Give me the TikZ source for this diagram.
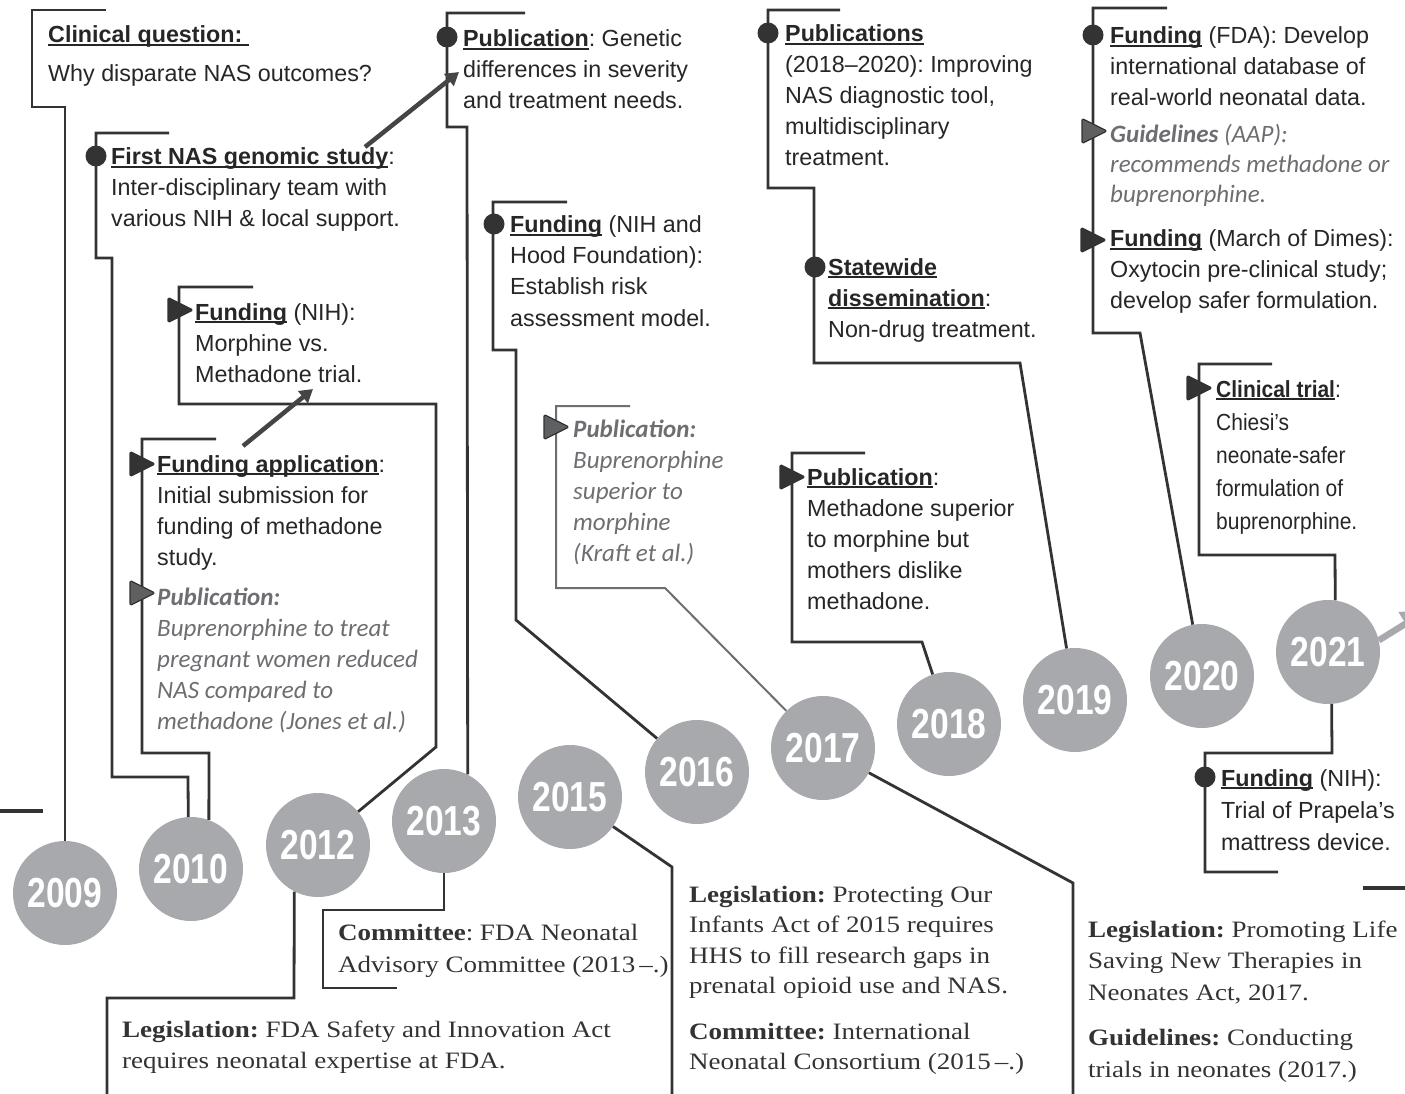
\documentclass[tikz,border=0pt]{standalone}
\usepackage{fontspec}
\setmainfont{Liberation Sans}
\newfontfamily\serifx{Liberation Serif}[FakeStretch=1.15]
\newfontfamily\calx{Carlito}
\newfontfamily\yearx{Liberation Sans}[FakeStretch=0.8]
\newfontfamily\narrowx{Liberation Sans}[FakeStretch=0.9]
\usetikzlibrary{arrows.meta}
\frenchspacing
\definecolor{ink}{HTML}{262626}
\definecolor{linec}{HTML}{333333}
\definecolor{greyt}{HTML}{6D6E71}
\definecolor{circ}{HTML}{A7A9AC}
\definecolor{trigrey}{HTML}{5F6062}
\definecolor{arrc}{HTML}{454545}
\newcommand\ulx[1]{\leavevmode\setbox0\hbox{#1}\rlap{\rule[-2.8pt]{\wd0}{1.4pt}}\box0\relax}
\newcommand\blk[1]{\parbox[t]{640pt}{\raggedright\frenchspacing\leavevmode #1}}
\newcommand\dotmk[2]{\fill[linec] (#1,#2) circle[radius=10.5pt];}
\newcommand\trimk[3]{\filldraw[fill=#3, draw=linec, line width=1.2pt, line join=round, rounded corners=1.5pt] (#1-12,#2-12.5) -- (#1+13,#2) -- (#1-12,#2+12.5) -- cycle;}
\tikzset{
  ln/.style={draw=linec, line width=2.8pt},
  lngrey/.style={draw=greyt, line width=2pt},
  yr/.style={circle, fill=circ, minimum size=104pt, inner sep=0pt, text=white, font=\yearx\bfseries\fontsize{42}{42}\selectfont},
  st/.style={anchor=base west, inner sep=0pt, text=ink, font=\fontsize{23.3}{31}\selectfont},
  stn/.style={anchor=base west, inner sep=0pt, text=ink, font=\narrowx\fontsize{23.3}{33}\selectfont},
  itx/.style={anchor=base west, inner sep=0pt, text=greyt, font=\calx\itshape\fontsize{25}{31}\selectfont},
  sr/.style={anchor=base west, inner sep=0pt, text=linec, font=\serifx\fontsize{23.5}{31}\selectfont},
  arr/.style={draw=arrc, line width=4.5pt, -{Triangle[length=13pt,width=15pt]}},
}
\begin{document}
\begin{tikzpicture}[x=1pt,y=-1pt]
\useasboundingbox (0,0) rectangle (1405,1094);
\clip (0,0) rectangle (1405,1094);

% year circles
\node[yr] (y2009) at (65,893) {2009};
\node[yr] (y2010) at (191,869) {2010};
\node[yr] (y2012) at (318,845) {2012};
\node[yr] (y2013) at (444,821) {2013};
\node[yr] (y2015) at (570,797) {2015};
\node[yr] (y2016) at (697,772) {2016};
\node[yr] (y2017) at (823,748) {2017};
\node[yr] (y2018) at (949,724) {2018};
\node[yr] (y2019) at (1075,700) {2019};
\node[yr] (y2020) at (1202,676) {2020};
\node[yr] (y2021) at (1328,652) {2021};

% axis stubs
\coordinate (axl1) at (0,811); \coordinate (axl2) at (43,811);
\coordinate (axr1) at (1363,888); \coordinate (axr2) at (1405,888);
\draw[draw=linec, line width=4pt] (axl1) -- (axl2);
\draw[draw=linec, line width=4pt] (axr1) -- (axr2);

% brackets / connectors
\draw[ln] (106,10) -- (32,10) -- (32,107) -- (65,107) -- (y2009.north);
\draw[ln] (169,133) -- (96,133) -- (96,258) -- (112,258) -- (112,777) -- (188,777) -- (y2010.93);
\draw[ln] (253,287) -- (179,287) -- (179,404) -- (436,404) -- (436,747) -- (y2012);
\draw[ln] (216,439) -- (142,439) -- (142,753) -- (209,753) -- (y2010.70);
\draw[ln] (525,13) -- (447,13) -- (447,127) -- (467,127) -- (y2013.63);
\draw[ln] (567,202) -- (493,202) -- (493,350) -- (516,350) -- (516,620) -- (y2016);
\draw[lngrey] (630,406) -- (556,406) -- (556,588) -- (665,588) -- (y2017);
\draw[ln] (840,10) -- (768,10) -- (768,188) -- (814,188) -- (814,363) -- (1020,363) -- (y2019);
\draw[ln] (865,453) -- (792,453) -- (792,642) -- (922,642) -- (y2018);
\draw[ln] (1167,8) -- (1093,8) -- (1093,333) -- (1140,333) -- (y2020);
\draw[ln] (1272,364) -- (1199,364) -- (1199,555) -- (1335,555) -- (y2021.82);
\draw[ln] (y2021.-86) -- (1332,753) -- (1205,753) -- (1205,872) -- (1278,872);
\draw[ln] (y2013.south) -- (444,910) -- (323,910) -- (323,988) -- (397,988);
\draw[ln] (y2012.-117) -- (294,998) -- (107,998) -- (107,1094);
\draw[ln] (y2015) -- (672,867) -- (672,1094);
\draw[ln] (y2017) -- (1073,883) -- (1073,1094);

% arrows
\coordinate (a1s) at (365,147); \coordinate (a1e) at (459,72);
\coordinate (a2s) at (243,446); \coordinate (a2e) at (313,389);
\coordinate (a3e) at (1426,611);
\draw[arr] (a1s) -- (a1e);
\draw[arr] (a2s) -- (a2e);
\draw[draw=circ, line width=6.5pt, -{Triangle[length=24pt,width=26pt]}] (y2021.13) -- (a3e);

% markers
\dotmk{96}{156}
\trimk{180}{310}{linec}
\trimk{142}{464}{linec}
\trimk{142}{593}{trigrey}
\dotmk{447}{37}
\dotmk{494}{224}
\trimk{556}{427}{trigrey}
\dotmk{768}{33}
\dotmk{815}{267}
\trimk{792}{477}{linec}
\dotmk{1093}{35}
\trimk{1094}{131}{trigrey}
\trimk{1093}{240}{linec}
\trimk{1199}{388}{linec}
\dotmk{1205}{777}

% sans text blocks
\node[st] (cq) at (48,43) {\blk{\ulx{\bfseries Clinical question:~}\\[8pt]Why disparate NAS outcomes?}};
\node[st] (nas) at (111,165) {\blk{\ulx{\bfseries First NAS genomic study}:\\Inter-disciplinary team with\\various NIH \& local support.}};
\node[st] (fnih) at (195,320) {\blk{\ulx{\bfseries Funding} (NIH):\\Morphine vs.\\Methadone trial.}};
\node[st] (fapp) at (157,472) {\blk{\ulx{\bfseries Funding application}:\\Initial submission for\\funding of methadone\\study.}};
\node[itx] (jones) at (157,605) {\blk{{\bfseries Publication:}\\Buprenorphine to treat\\pregnant women reduced\\NAS compared to\\methadone (Jones et al.)}};
\node[st] (pubgen) at (463,47) {\blk{\ulx{\bfseries Publication}: Genetic\\differences in severity\\and treatment needs.}};
\node[st] (hood) at (510,233) {\blk{\ulx{\bfseries Funding} (NIH and\\Hood Foundation):\\Establish risk\\assessment model.}};
\node[itx] (kraft) at (573,437) {\blk{{\bfseries Publication:}\\Buprenorphine\\superior to\\morphine\\(Kraft et al.)}};
\node[st] (pubs) at (785,42) {\blk{\ulx{\bfseries Publications}\\(2018–2020): Improving\\NAS diagnostic tool,\\multidisciplinary\\treatment.}};
\node[st] (state) at (828,275) {\blk{\ulx{\bfseries Statewide}\\\ulx{\bfseries dissemination}:\\Non-drug treatment.}};
\node[st] (meth) at (807,485) {\blk{\ulx{\bfseries Publication}:\\Methadone superior\\to morphine but\\mothers dislike\\methadone.}};
\node[st] (fda) at (1110,44) {\blk{\ulx{\bfseries Funding} (FDA): Develop\\international database of\\real-world neonatal data.}};
\node[itx, font=\calx\itshape\fontsize{25}{30}\selectfont] (aap) at (1110,143) {\blk{{\bfseries Guidelines} (AAP):\\recommends methadone or\\buprenorphine.}};
\node[st] (mod) at (1110,247) {\blk{\ulx{\bfseries Funding} (March of Dimes):\\Oxytocin pre-clinical study;\\develop safer formulation.}};
\node[stn] (ctrial) at (1216,397) {\blk{\ulx{\bfseries Clinical trial}:\\Chiesi’s\\neonate-safer\\formulation of\\buprenorphine.}};
\node[st, font=\fontsize{23.3}{32}\selectfont] (fnih2) at (1221,786) {\blk{\ulx{\bfseries Funding} (NIH):\\Trial of Prapela’s\\mattress device.}};

% serif text blocks
\node[sr, font=\serifx\fontsize{23.5}{32}\selectfont] (comm13) at (338,940) {\blk{{\bfseries Committee}: FDA Neonatal\\Advisory Committee (2013\,–.)}};
\node[sr] (leg12) at (122,1037) {\blk{{\bfseries Legislation:} FDA Safety and Innovation Act\\requires neonatal expertise at FDA.}};
\node[sr, font=\serifx\fontsize{23.5}{30.5}\selectfont] (leg15) at (689,902) {\blk{{\bfseries Legislation:} Protecting Our\\Infants Act of 2015 requires\\HHS to fill research gaps in\\prenatal opioid use and NAS.\\[15pt]{\bfseries Committee:} International\\Neonatal Consortium (2015\,–.)}};
\node[sr, font=\serifx\fontsize{23.5}{31.5}\selectfont] (leg17) at (1088,937) {\blk{{\bfseries Legislation:} Promoting Life\\Saving New Therapies in\\Neonates Act, 2017.\\[14pt]{\bfseries Guidelines:} Conducting\\trials in neonates (2017.)}};
\end{tikzpicture}
\end{document}
